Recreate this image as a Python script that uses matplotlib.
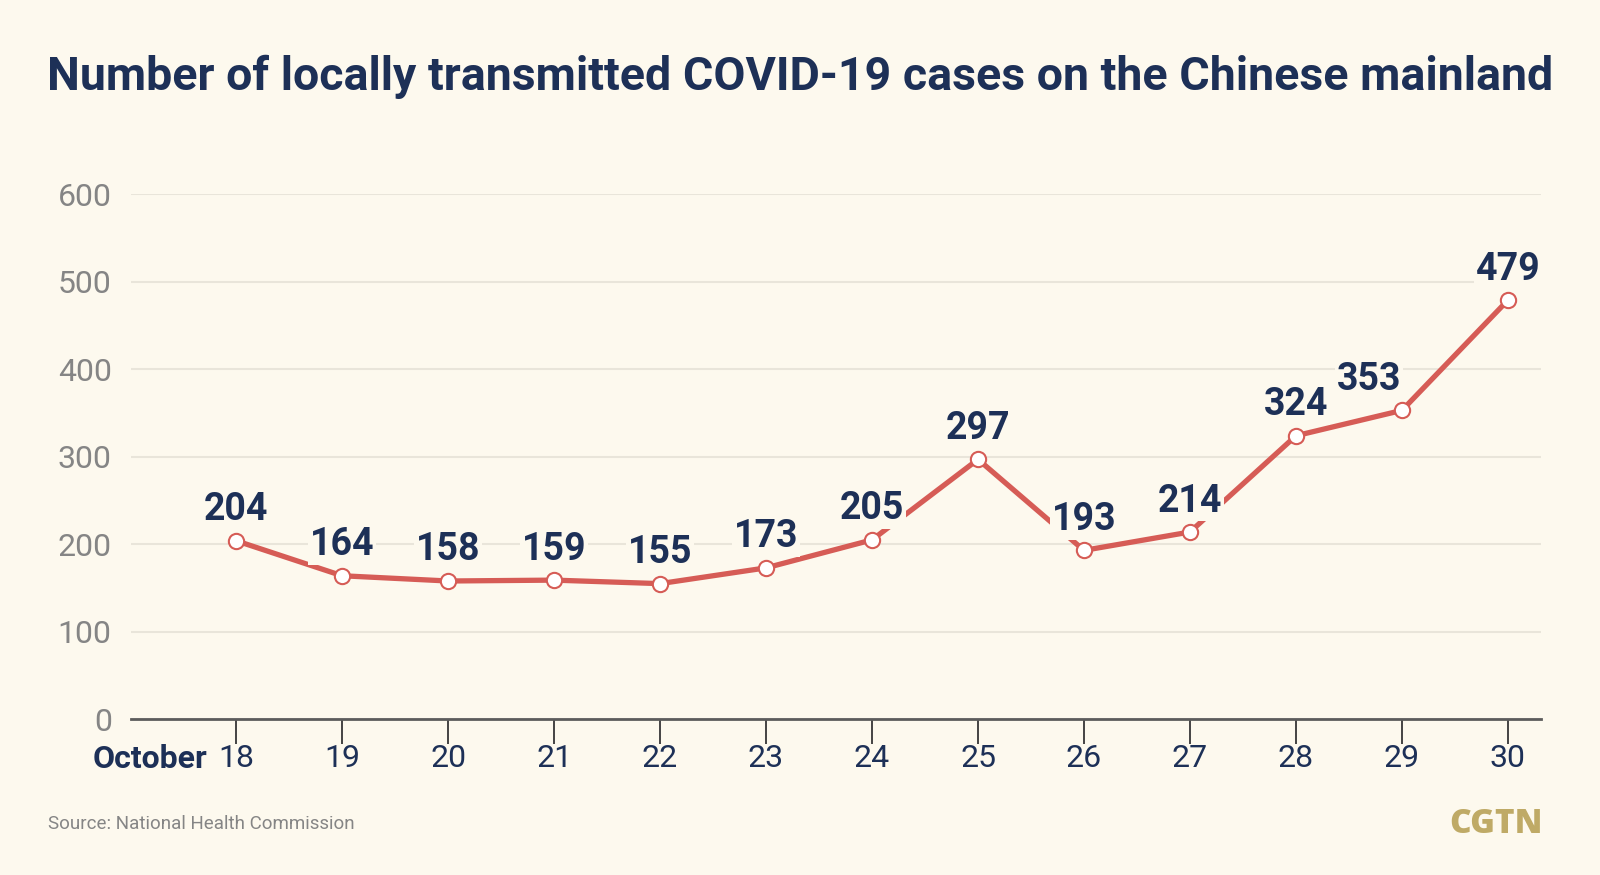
import matplotlib.pyplot as plt

days = ['18', '19', '20', '21', '22', '23', '24', '25', '26', '27', '28', '29', '30']
cases = [204, 164, 158, 159, 155, 173, 205, 297, 193, 214, 324, 353, 479]
yticks = [0, 100, 200, 300, 400, 500, 600]

bg = '#fdf9ee'
navy = '#1d3057'
red = '#d65c56'
gray = '#858585'

plt.rcParams['font.family'] = ['Roboto', 'DejaVu Sans']

fig = plt.figure(figsize=(16, 8.75), dpi=100, facecolor=bg)
ax = fig.add_axes([0.082, 0.178, 0.881, 0.600], facecolor=bg)

x = list(range(len(days)))
ax.plot(x, cases, color=red, lw=3.8, marker='o', ms=11, mfc='white',
        mec=red, mew=1.5, zorder=3, clip_on=False)

# value labels sit on a patch of background so the line breaks under them
shift = {11: -24}
for i, v in enumerate(cases):
    ax.annotate(str(v), (i, v), xytext=(shift.get(i, 0), 9), textcoords='offset points',
                ha='center', va='bottom', fontsize=27, fontweight='bold', color=navy,
                bbox=dict(boxstyle='square,pad=0.05', fc=bg, ec='none'), zorder=4,
                annotation_clip=False)

ax.set_xlim(-0.99, 12.31)
ax.set_ylim(0, 600)
ax.set_yticks(yticks)
ax.set_xticks(x, days)
ax.grid(axis='y', color='#e9e5da', lw=1.5)
ax.set_axisbelow(True)
for s in ['top', 'right', 'left']:
    ax.spines[s].set_visible(False)
ax.spines['bottom'].set_color('#5c5c5c')
ax.spines['bottom'].set_linewidth(2)
ax.tick_params(axis='y', length=0, pad=14, labelsize=23, labelcolor=gray)
ax.tick_params(axis='x', length=18, width=1.4, color='#444444', pad=0,
               labelsize=23, labelcolor=navy)
ax.text(-0.27, -0.075, 'October', transform=ax.get_xaxis_transform(), ha='right', va='center',
        fontsize=23, fontweight='bold', color=navy)

fig.text(0.5, 0.912, 'Number of locally transmitted COVID-19 cases on the Chinese mainland',
         ha='center', va='center', fontsize=33.5, fontweight='bold', color=navy)
fig.text(0.030, 0.058, 'Source: National Health Commission', ha='left', va='center',
         fontsize=13.5, color=gray)
fig.text(0.964, 0.058, 'CGTN', ha='right', va='center', fontsize=24, fontweight='heavy',
         color='#bfaa66', family=['Open Sans', 'DejaVu Sans'])

fig.savefig('out.png', dpi=100, facecolor=bg)
